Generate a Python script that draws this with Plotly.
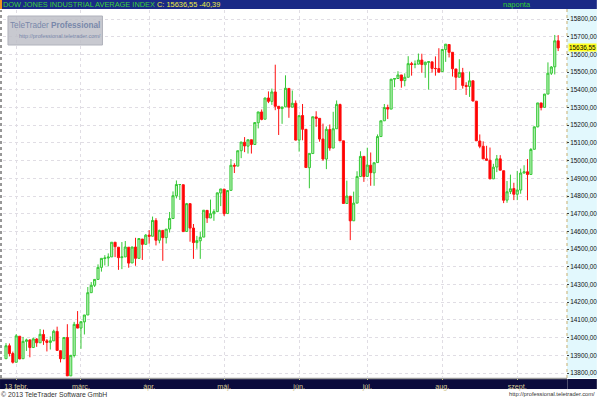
import plotly.graph_objects as go

dates = (
    ["2013-01-%02d" % d for d in [29, 30, 31]]
    + ["2013-02-%02d" % d for d in [1, 4, 5, 6, 7, 8, 11, 12, 13, 14, 15, 19, 20, 21, 22, 25, 26, 27, 28]]
    + ["2013-03-%02d" % d for d in [1, 4, 5, 6, 7, 8, 11, 12, 13, 14, 15, 18, 19, 20, 21, 22, 25, 26, 27, 28]]
    + ["2013-04-%02d" % d for d in [1, 2, 3, 4, 5, 8, 9, 10, 11, 12, 15, 16, 17, 18, 19, 22, 23, 24, 25, 26, 29, 30]]
    + ["2013-05-%02d" % d for d in [1, 2, 3, 6, 7, 8, 9, 10, 13, 14, 15, 16, 17, 20, 21, 22, 23, 24, 28, 29, 30, 31]]
    + ["2013-06-%02d" % d for d in [3, 4, 5, 6, 7, 10, 11, 12, 13, 14, 17, 18, 19, 20, 21, 24, 25, 26, 27, 28]]
    + ["2013-07-%02d" % d for d in [1, 2, 3, 5, 8, 9, 10, 11, 12, 15, 16, 17, 18, 19, 22, 23, 24, 25, 26, 29, 30, 31]]
    + ["2013-08-%02d" % d for d in [1, 2, 5, 6, 7, 8, 9, 12, 13, 14, 15, 16, 19, 20, 21, 22, 23, 26, 27, 28, 29, 30]]
    + ["2013-09-%02d" % d for d in [3, 4, 5, 6, 9, 10, 11, 12, 13, 16, 17, 18, 19]]
)

open_ = [
    13881, 13954, 13910,
    13861, 14008, 13881, 13979, 13987, 13944, 13992, 13971, 14018, 13982, 13973, 13982, 14035, 13926, 13881, 14001, 13784, 13899, 14075,
    14054, 14089, 14128, 14254, 14296, 14329, 14397, 14447, 14450, 14456, 14539, 14511, 14452, 14456, 14511, 14422, 14512, 14448, 14557, 14527,
    14579, 14573, 14662, 14550, 14606, 14565, 14614, 14673, 14801, 14865, 14864, 14600, 14757, 14619, 14537, 14547, 14568, 14719, 14676, 14700, 14712, 14817,
    14839, 14701, 14832, 14973, 14969, 15056, 15104, 15082, 15118, 15091, 15214, 15275, 15234, 15354, 15335, 15388, 15307, 15294, 15304, 15408, 15302, 15324,
    15116, 15255, 15177, 14960, 15040, 15247, 15239, 15122, 15009, 15176, 15071, 15180, 15317, 15112, 14758, 14799, 14660, 14760, 14910, 15024,
    14911, 14974, 14931, 14989, 15136, 15225, 15300, 15291, 15460, 15464, 15484, 15452, 15471, 15548, 15543, 15545, 15568, 15542, 15555, 15558, 15521, 15520,
    15503, 15628, 15656, 15612, 15518, 15471, 15497, 15425, 15419, 15451, 15336, 15111, 15081, 15010, 15002, 14897, 14964, 15010, 14943, 14777, 14825, 14842,
    14810, 14834, 14930, 14937, 14922, 15064, 15191, 15326, 15301, 15376, 15494, 15530, 15677,
]
high = [
    13969, 13967, 13921,
    14020, 14008, 14004, 13994, 13991, 14000, 13997, 14049, 14045, 13992, 14007, 14045, 14062, 13927, 14001, 14076, 13902, 14089, 14150,
    14090, 14128, 14286, 14314, 14330, 14414, 14448, 14466, 14476, 14540, 14539, 14511, 14540, 14546, 14511, 14514, 14564, 14559, 14557, 14585,
    14608, 14684, 14675, 14610, 14606, 14613, 14710, 14826, 14888, 14866, 14864, 14761, 14757, 14642, 14575, 14599, 14720, 14720, 14780, 14725, 14819, 14840,
    14839, 14831, 15009, 14985, 15056, 15106, 15133, 15118, 15118, 15215, 15276, 15289, 15355, 15391, 15407, 15542, 15307, 15304, 15482, 15408, 15396, 15340,
    15255, 15320, 15177, 15041, 15248, 15279, 15239, 15209, 15193, 15204, 15276, 15340, 15322, 15112, 14887, 14799, 14825, 14940, 15053, 15024,
    15073, 15046, 14987, 15148, 15226, 15320, 15316, 15462, 15465, 15505, 15484, 15493, 15590, 15558, 15566, 15605, 15604, 15559, 15558, 15558, 15589, 15635,
    15630, 15658, 15657, 15612, 15518, 15573, 15524, 15443, 15503, 15451, 15336, 15148, 15109, 15084, 15074, 14982, 15032, 15031, 14943, 14885, 14921, 14875,
    14942, 14955, 14974, 15009, 15071, 15192, 15326, 15326, 15377, 15555, 15534, 15710, 15709,
]
low = [
    13880, 13894, 13854,
    13861, 13878, 13881, 13925, 13889, 13944, 13948, 13971, 13959, 13922, 13933, 13982, 13927, 13860, 13881, 13784, 13784, 13888, 14053,
    13937, 14018, 14128, 14254, 14286, 14329, 14373, 14408, 14403, 14456, 14455, 14383, 14387, 14456, 14395, 14422, 14406, 14448, 14439, 14527,
    14531, 14573, 14521, 14533, 14434, 14532, 14594, 14673, 14787, 14778, 14598, 14600, 14542, 14445, 14502, 14445, 14568, 14648, 14676, 14660, 14712, 14743,
    14687, 14701, 14832, 14930, 14969, 15014, 15048, 15040, 15040, 15091, 15182, 15228, 15234, 15325, 15315, 15285, 15145, 15208, 15304, 15242, 15302, 15114,
    15051, 15115, 14961, 14844, 15040, 15191, 15107, 14999, 14952, 15056, 15071, 15180, 15112, 14758, 14758, 14551, 14660, 14760, 14910, 14880,
    14911, 14858, 14858, 14989, 15136, 15225, 15235, 15291, 15415, 15464, 15412, 15420, 15471, 15480, 15522, 15545, 15496, 15468, 15401, 15497, 15480, 15497,
    15503, 15558, 15583, 15475, 15399, 15471, 15407, 15371, 15360, 15334, 15111, 15070, 15010, 15001, 14896, 14897, 14935, 14946, 14760, 14762, 14811, 14777,
    14777, 14813, 14927, 14776, 14922, 15064, 15188, 15284, 15301, 15376, 15484, 15487, 15619,
]
close = [
    13954, 13910, 13861,
    14010, 13880, 13979, 13987, 13944, 13993, 13971, 14019, 13983, 13973, 13982, 14036, 13928, 13881, 14001, 13784, 13900, 14075, 14054,
    14090, 14128, 14254, 14296, 14329, 14397, 14448, 14450, 14455, 14539, 14514, 14452, 14456, 14512, 14421, 14512, 14448, 14560, 14527, 14579,
    14573, 14662, 14550, 14606, 14565, 14613, 14673, 14802, 14865, 14865, 14599, 14757, 14619, 14537, 14548, 14567, 14720, 14676, 14700, 14712, 14818, 14840,
    14700, 14831, 14974, 14969, 15056, 15105, 15083, 15118, 15091, 15215, 15275, 15233, 15354, 15335, 15388, 15307, 15294, 15303, 15409, 15302, 15324, 15116,
    15254, 15177, 14961, 15041, 15248, 15239, 15122, 15009, 15177, 15071, 15180, 15318, 15112, 14758, 14800, 14660, 14760, 14910, 15024, 14910,
    14975, 14932, 14988, 15136, 15225, 15300, 15291, 15460, 15464, 15484, 15452, 15471, 15548, 15543, 15545, 15568, 15543, 15556, 15559, 15521, 15520, 15500,
    15628, 15658, 15612, 15519, 15471, 15498, 15425, 15419, 15451, 15337, 15112, 15081, 15010, 15002, 14897, 14963, 15010, 14946, 14776, 14824, 14841, 14810,
    14834, 14930, 14937, 14922, 15063, 15191, 15326, 15300, 15376, 15494, 15529, 15677, 15636.55,
]

tick_dates = ["2013-02-01", "2013-03-01", "2013-04-01", "2013-05-01", "2013-06-03",
              "2013-07-01", "2013-08-01", "2013-09-03"]
tick_labels = ["13 febr.", "márc.", "ápr.", "máj.", "jún.", "júl.", "aug.", "szept."]
y_ticks = [13800, 13900, 14000, 14100, 14200, 14300, 14400, 14500, 14600, 14700,
           14800, 14900, 15000, 15100, 15200, 15300, 15400, 15500, 15600, 15700, 15800]
y_labels = ["%d,00" % v for v in y_ticks]
last_price = 15636.55
title_name = "DOW JONES INDUSTRIAL AVERAGE INDEX"
title_quote = "C: 15636,55 -40,39"

W, H = 600, 400
PL, PR, PT, PB = 3, 569, 10, 378


def fx(px):
    return (px - PL) / (PR - PL)


def fy(py):
    return (PB - py) / (PB - PT)


FONT = "Liberation Sans Narrow, Liberation Sans, Arial, sans-serif"

fig = go.Figure()
fig.add_trace(go.Candlestick(
    x=dates, open=open_, high=high, low=low, close=close,
    increasing=dict(line=dict(color="#34c834", width=1), fillcolor="#bff2bf"),
    decreasing=dict(line=dict(color="#ff1010", width=1), fillcolor="#ff0000"),
    whiskerwidth=0, hoverinfo="skip", showlegend=False,
))

shapes = []
# right axis panel
shapes.append(dict(type="rect", xref="paper", yref="paper", x0=fx(570), x1=fx(600), y0=fy(378), y1=fy(9),
                   fillcolor="#e2f8fd", line=dict(width=0), layer="below"))
shapes.append(dict(type="line", xref="paper", yref="paper", x0=fx(570), x1=fx(570), y0=fy(378), y1=fy(9),
                   line=dict(color="#c8b070", width=1, dash="dot"), layer="below"))
# header bar
shapes.append(dict(type="rect", xref="paper", yref="paper", x0=fx(0), x1=fx(600), y0=fy(9), y1=fy(0),
                   fillcolor="#1a2a86", line=dict(width=0), layer="below"))
shapes.append(dict(type="rect", xref="paper", yref="paper", x0=fx(0), x1=fx(2), y0=fy(9), y1=fy(0),
                   fillcolor="#f09020", line=dict(width=0), layer="below"))
# bottom date bar
shapes.append(dict(type="rect", xref="paper", yref="paper", x0=fx(0), x1=fx(600), y0=fy(389), y1=fy(379),
                   fillcolor="#0b0b3c", line=dict(width=0), layer="below"))
shapes.append(dict(type="line", xref="paper", yref="paper", x0=fx(0), x1=fx(570), y0=fy(378.5), y1=fy(378.5),
                   line=dict(color="#9a9a9a", width=1.5), layer="below"))
shapes.append(dict(type="line", xref="paper", yref="paper", x0=fx(570.5), x1=fx(570.5), y0=fy(389), y1=fy(379),
                   line=dict(color="#505070", width=1), layer="below"))
# left dotted edge
shapes.append(dict(type="line", xref="paper", yref="paper", x0=fx(1), x1=fx(1), y0=fy(378), y1=fy(10),
                   line=dict(color="#303030", width=1, dash="dot")))
# logo box
shapes.append(dict(type="rect", xref="paper", yref="paper", x0=fx(8), x1=fx(103), y0=fy(45), y1=fy(16),
                   fillcolor="rgba(190,192,200,0.85)", line=dict(color="#b0b2bc", width=1)))

annotations = [
    dict(xref="paper", yref="paper", x=fx(2), y=fy(4.5), xanchor="left", yanchor="middle",
         text="<span style='color:#3ad23a'>%s</span> <span style='color:#f0f040'>%s</span>" % (title_name, title_quote),
         showarrow=False, borderpad=0, font=dict(family=FONT, size=7.4)),
    dict(xref="paper", yref="paper", x=fx(520), y=fy(4.5), xanchor="center", yanchor="middle",
         text="naponta", showarrow=False, borderpad=0, font=dict(family=FONT, size=7.5, color="#30d030")),
    dict(xref="paper", yref="paper", x=fx(55), y=fy(25.5), xanchor="center", yanchor="middle",
         text="TeleTrader <b>Professional</b>", showarrow=False, borderpad=0,
         font=dict(family=FONT, size=8.2, color="#7888aa")),
    dict(xref="paper", yref="paper", x=fx(60), y=fy(36), xanchor="center", yanchor="middle",
         text="http://professional.teletrader.com/", showarrow=False, borderpad=0,
         font=dict(family=FONT, size=5.5, color="#7888aa")),
    dict(xref="paper", yref="y", x=fx(571), y=last_price, xanchor="left", yanchor="middle",
         text=("%.2f" % last_price).replace(".", ","), showarrow=False, bgcolor="#ffff20",
         borderpad=0, font=dict(family=FONT, size=6.4, color="#000000")),
    dict(xref="paper", yref="paper", x=fx(0), y=fy(394.5), xanchor="left", yanchor="middle",
         text="© 2013 TeleTrader Software GmbH", showarrow=False, borderpad=0,
         font=dict(family=FONT, size=6.8, color="#333333")),
    dict(xref="paper", yref="paper", x=fx(599), y=fy(394.5), xanchor="right", yanchor="middle",
         text="http://professional.teletrader.com/", showarrow=False, borderpad=0,
         font=dict(family=FONT, size=5.8, color="#333333")),
]

fig.update_layout(
    width=W, height=H,
    margin=dict(l=PL, r=W - PR, t=PT, b=H - PB),
    paper_bgcolor="#ffffff", plot_bgcolor="#ffffff",
    boxgap=0.12,
    shapes=shapes, annotations=annotations,
    xaxis=dict(type="category", range=[-0.88, 164.3], rangeslider=dict(visible=False),
               tickmode="array", tickvals=tick_dates, ticktext=tick_labels,
               showgrid=True, gridcolor="#e0dde4", griddash="dot", gridwidth=1,
               ticks="outside", ticklen=1, tickcolor="#c8c890",
               tickfont=dict(family=FONT, size=7.2, color="#d8cc98"),
               zeroline=False, showline=False, fixedrange=True),
    yaxis=dict(side="right", range=[13772, 15851], tickmode="array", tickvals=y_ticks, ticktext=y_labels,
               showgrid=True, gridcolor="#e0dde4", griddash="dot", gridwidth=1,
               ticks="outside", ticklen=2, tickcolor="#404040",
               tickfont=dict(family=FONT, size=6.4, color="#101010"),
               zeroline=False, showline=False, fixedrange=True),
)

fig.write_html("out.html", config={"displayModeBar": False},
               post_script="document.body.style.margin='0';document.body.style.padding='0';")
